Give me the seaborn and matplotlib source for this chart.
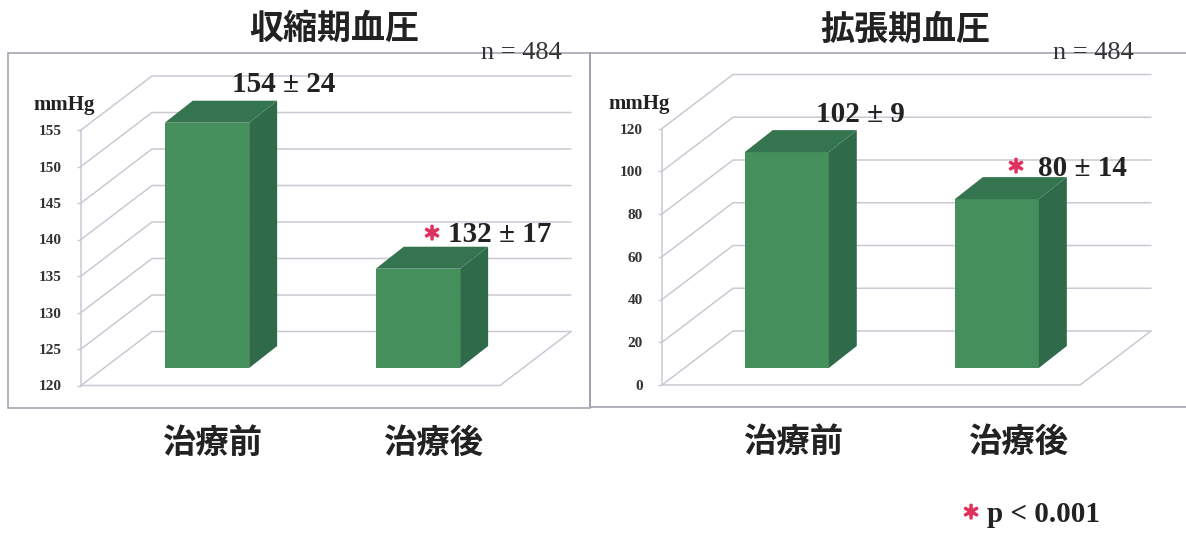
# =========================
# IMPORT LIBRARIES
# =========================
import matplotlib
matplotlib.use("Agg")

import matplotlib.patheffects as pe
import matplotlib.pyplot as plt
import pandas as pd
import seaborn as sns
from matplotlib.patches import Polygon, Rectangle
from matplotlib.transforms import ScaledTranslation

# =========================
# DATA
# =========================
treatment = ["治療前", "治療後"]

systolic_bars = [153.6, 133.6]
systolic_labels = ["154 ± 24", "132 ± 17"]
systolic_ticks = [120, 125, 130, 135, 140, 145, 150, 155]

diastolic_bars = [101, 79]
diastolic_labels = ["102 ± 9", "80 ± 14"]
diastolic_ticks = [0, 20, 40, 60, 80, 100, 120]

# =========================
# GLOBAL SETTINGS
# =========================
W, H = 1186, 535
FRONT = "#458f5c"
SIDE = "#2f6a4b"
TOP = "#34744f"
GRID = "#cdc7d3"
FRAME = "#a09cab"
RED = "#e0305c"
INK = "#222222"
SERIF = "Liberation Serif"
CJK = "Noto Sans CJK JP"

sns.set_theme(style="white")
plt.rcParams["font.family"] = [CJK, "DejaVu Sans"]

fig = plt.figure(figsize=(W / 100, H / 100), dpi=100, facecolor="white")


def put_text(x, y, text, **kws):
    # x, y are pixels of the final picture, measured from the top left
    kws.setdefault("color", INK)
    return fig.text(x / W, 1 - y / H, text, ha=kws.pop("ha", "center"), va="center", **kws)


def add_frame(left, top, right, bottom):
    fig.add_artist(Rectangle(
        (left / W, 1 - bottom / H),
        (right - left) / W,
        (bottom - top) / H,
        transform=fig.transFigure,
        fill=False,
        edgecolor=FRAME,
        linewidth=1.1,
    ))


# =========================
# FUNCTION: FAKE 3D BAR PANEL
# =========================
def draw_panel(box, xlim, values, ticks, bar_lift, shifts):
    left, right, top, bottom = box
    ax = fig.add_axes([left / W, 1 - bottom / H, (right - left) / W, (bottom - top) / H])
    ax.patch.set_alpha(0)

    df = pd.DataFrame({"treatment": treatment, "pressure": values})
    sns.barplot(
        data=df, x="treatment", y="pressure", color=FRONT, saturation=1,
        width=0.4, linewidth=0, ax=ax, zorder=3,
    )

    ymin, ymax = ticks[0], ticks[-1]
    ax.set_xlim(*xlim)
    ax.set_ylim(ymin, ymax)

    # pixel sizes turned into data units
    ux = (xlim[1] - xlim[0]) / (right - left)
    uy = (ymax - ymin) / (bottom - top)
    wall_dx, wall_dy = 71 * ux, 54 * uy
    bar_dx, bar_dy = 28 * ux, 22 * uy
    lift = bar_lift * uy

    # walls and floor
    grid_kw = dict(color=GRID, linewidth=1.1, zorder=1, clip_on=False)
    for t in ticks:
        ax.plot(
            [xlim[0], xlim[0] + wall_dx, xlim[1] + wall_dx],
            [t, t + wall_dy, t + wall_dy],
            **grid_kw,
        )
    ax.plot(
        [xlim[0], xlim[1], xlim[1] + wall_dx],
        [ymin, ymin, ymin + wall_dy],
        **grid_kw,
    )
    ax.plot([xlim[0], xlim[0]], [ymin, ymax], **grid_kw)

    # bars stand a little in front of the back wall, so the whole box is lifted
    for bar, value in zip(ax.patches, values):
        x0 = bar.get_x()
        x1 = x0 + bar.get_width()
        y0 = ymin + lift
        y1 = value + lift
        bar.set_y(y0)
        bar.set_height(y1 - y0)
        bar.set_clip_on(False)
        ax.add_patch(Polygon(
            [(x1, y0), (x1 + bar_dx, y0 + bar_dy), (x1 + bar_dx, y1 + bar_dy), (x1, y1)],
            facecolor=SIDE, edgecolor="none", zorder=3, clip_on=False,
        ))
        ax.add_patch(Polygon(
            [(x0, y1), (x1, y1), (x1 + bar_dx, y1 + bar_dy), (x0 + bar_dx, y1 + bar_dy)],
            facecolor=TOP, edgecolor="none", zorder=3, clip_on=False,
        ))

    # axes text
    sns.despine(ax=ax, left=True, bottom=True)
    ax.set_xlabel("")
    ax.set_ylabel("")
    ax.set_yticks(ticks)
    ax.tick_params(axis="y", left=True, length=3, width=1, color=GRID, pad=11, labelcolor="#333333")
    for label in ax.get_yticklabels():
        label.set_fontfamily(SERIF)
        label.set_fontweight("bold")
        label.set_fontsize(11)
    ax.tick_params(axis="x", bottom=False, pad=23.5)
    for label, shift in zip(ax.get_xticklabels(), shifts):
        label.set_fontsize(24)
        label.set_fontweight("bold")
        label.set_color(INK)
        label.set_transform(label.get_transform() + ScaledTranslation(shift / 100, 0, fig.dpi_scale_trans))
    return ax


# =========================
# FRAMES AND PANELS
# =========================
add_frame(8, 53, 590, 408)
add_frame(590, 53, 1200, 407)

draw_panel((81, 500, 130, 385.5), (-0.597, 1.389), systolic_bars, systolic_ticks, 17.5, (5, 15))
draw_panel((662, 1080, 128.5, 385), (-0.594, 1.396), diastolic_bars, diastolic_ticks, 17, (6, 21))

# =========================
# TITLES AND LABELS
# =========================
title_kw = dict(fontsize=24.5, fontweight="bold", family=CJK)
put_text(334, 28, "収縮期血圧", **title_kw)
put_text(905, 29, "拡張期血圧", **title_kw)

n_kw = dict(fontsize=19, family=SERIF, color="#333333")
put_text(521, 53, "n = 484", **n_kw)
put_text(1093, 53, "n = 484", **n_kw)

unit_kw = dict(fontsize=15, fontweight="bold", family=SERIF)
put_text(64, 105, "mmHg", **unit_kw)
put_text(639, 104, "mmHg", **unit_kw)

value_kw = dict(fontsize=21, fontweight="bold", family=SERIF)
put_text(284, 84, systolic_labels[0], **value_kw)
put_text(500, 235, systolic_labels[1], **value_kw)
put_text(860, 114, diastolic_labels[0], **value_kw)
put_text(1082, 169, diastolic_labels[1], **value_kw)

star_kw = dict(fontsize=13, fontweight="bold", family=CJK, color=RED)
for x, y in [(432, 234), (1016, 167), (971, 513)]:
    star = put_text(x, y, "＊", **star_kw)
    star.set_path_effects([pe.withStroke(linewidth=1.4, foreground=RED)])
put_text(987, 514, "p < 0.001", ha="left", fontsize=21, fontweight="bold", family=SERIF)

fig.savefig("out.png", dpi=100)
plt.close(fig)
